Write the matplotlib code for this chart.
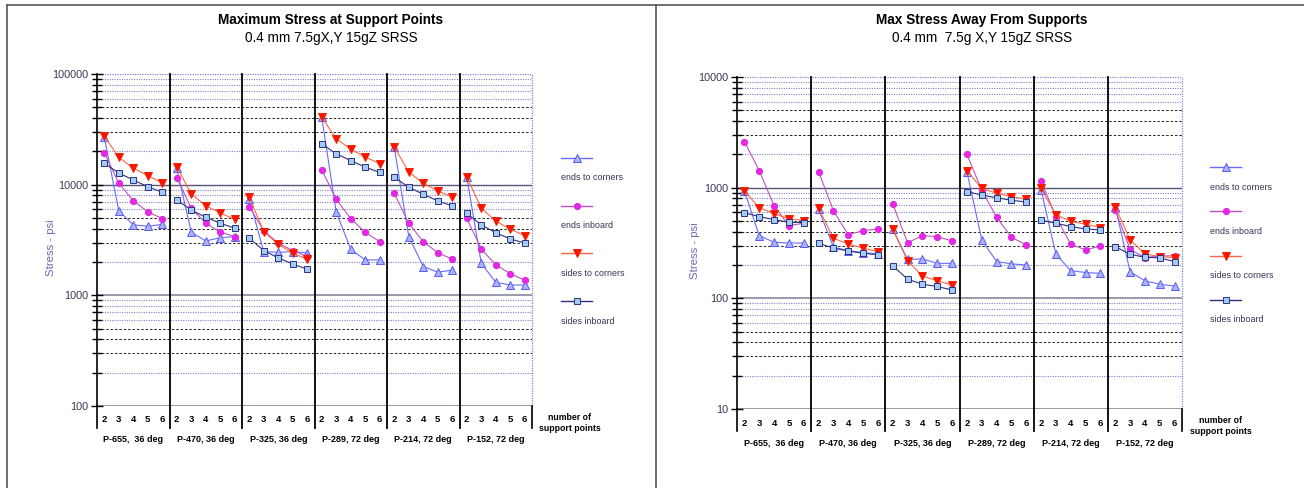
import numpy as np
import matplotlib
matplotlib.use("Agg")
import matplotlib.pyplot as plt
from matplotlib.lines import Line2D
import matplotlib.transforms as mtransforms

plt.rcParams['font.family'] = ['Liberation Sans', 'DejaVu Sans']

# ---- data ----
groups = ['P-655,  36 deg', 'P-470, 36 deg', 'P-325, 36 deg',
          'P-289, 72 deg', 'P-214, 72 deg', 'P-152, 72 deg']
supports = ['2', '3', '4', '5', '6']
series_names = ['ends to corners', 'ends inboard', 'sides to corners', 'sides inboard']

# Maximum stress at support points (psi), 5 values per group
sup_ends_corners = [26900, 5820, 4330, 4210, 4380,
                    14060, 3720, 3100, 3320, 3390,
                    7430, 2480, 2450, 2480, 2420,
                    40600, 5640, 2610, 2090, 2090,
                    21800, 3390, 1820, 1620, 1690,
                    11800, 1950, 1310, 1240, 1240]
sup_ends_inboard = [19450, 10350, 7160, 5700, 4930,
                    11560, 6120, 4480, 3740, 3390,
                    6330, 3840, 2960, 2540, 2240,
                    13600, 7380, 4930, 3720, 3050,
                    8360, 4480, 3050, 2430, 2120,
                    4970, 2620, 1890, 1570, 1370]
sup_sides_corners = [27500, 17700, 14100, 12100, 10350,
                     14550, 8240, 6460, 5550, 4860,
                     7740, 3760, 2900, 2400, 2120,
                     40600, 26100, 20900, 17800, 15500,
                     22000, 13000, 10300, 8770, 7740,
                     11800, 6120, 4700, 3960, 3460]
sup_sides_inboard = [15600, 12760, 11020, 9590, 8540,
                     7280, 5900, 5070, 4480, 4040,
                     3280, 2540, 2180, 1920, 1720,
                     23400, 19000, 16500, 14400, 12900,
                     11660, 9480, 8190, 7130, 6430,
                     5520, 4330, 3680, 3230, 2970]

# Max stress away from supports (psi)
away_ends_corners = [933, 368, 321, 316, 316,
                     640, 290, 270, 259, 252,
                     421, 225, 227, 207, 207,
                     1395, 337, 215, 205, 200,
                     953, 250, 178, 171, 168,
                     673, 174, 144, 134, 129]
away_ends_inboard = [2610, 1425, 688, 454, 477,
                     1395, 620, 376, 409, 424,
                     713, 318, 368, 361, 330,
                     2000, 950, 541, 356, 304,
                     1150, 547, 308, 274, 297,
                     629, 277, 233, 242, 242]
away_sides_corners = [933, 660, 582, 525, 504,
                      651, 349, 310, 284, 264,
                      421, 218, 159, 144, 132,
                      1415, 988, 890, 830, 786,
                      988, 567, 497, 467, 436,
                      673, 337, 253, 238, 233]
away_sides_inboard = [594, 547, 514, 487, 483,
                      315, 284, 268, 255, 248,
                      197, 149, 134, 128, 119,
                      920, 859, 812, 769, 743,
                      508, 477, 445, 424, 415,
                      293, 250, 235, 232, 215]

styles = [
    dict(color='#6a6aff', marker='^', mfc='#a8b4ff', mec='#5a5aee', ms=5.5, lw=0.8),
    dict(color='#c050c0', marker='o', mfc='#ee22ee', mec='#cc33cc', ms=4.5, lw=0.8),
    dict(color='#ff6644', marker='v', mfc='#ff1100', mec='#ee2200', ms=5.5, lw=0.8),
    dict(color='#303080', marker='s', mfc='#a0ccf4', mec='#303080', ms=5, lw=0.8),
]

W, H = 1304, 488
fig = plt.figure(figsize=(W / 100, H / 100), dpi=100)

# panel frame
for xs, ys in [([7, 7], [5, 488]), ([7, 1304], [5, 5]), ([656, 656], [5, 488])]:
    fig.add_artist(Line2D([x / W for x in xs], [1 - y / H for y in ys],
                          color='#555555', lw=1.2))


def draw_panel(box, series, decades, title, subtitle, tcx, leg_x, leg_y, ylab_x):
    x0, y0, x1, y1 = box
    ax = fig.add_axes([x0 / W, 1 - y1 / H, (x1 - x0) / W, (y1 - y0) / H])
    ax.set_yscale('log')
    ax.set_xlim(0, 30)
    ax.set_ylim(decades[0], decades[-1])
    for s in ['top', 'right', 'bottom']:
        ax.spines[s].set_visible(False)
    ax.spines['left'].set_color('black')
    ax.spines['left'].set_linewidth(1.2)

    # grid lines
    for d in decades[:-1]:
        for m in range(2, 10):
            if m in (3, 4, 5):
                ax.axhline(d * m, color='#222222', lw=0.7, ls=(0, (2.5, 2)), zorder=1)
            else:
                ax.axhline(d * m, color='#8080cc', lw=0.8, ls=(0, (1, 1.2)), zorder=1)
    for i, d in enumerate(decades):
        if i == len(decades) - 1:
            ax.axhline(d, color='#8080cc', lw=0.9, ls=(0, (1, 1)), zorder=1)
        elif i == len(decades) - 2:
            ax.axhline(d, color='#555577', lw=1.0, zorder=1)
        else:
            ax.axhline(d, color='#9a9aaa', lw=1.4, zorder=1)

    # group separators extending under the axis
    trans = mtransforms.blended_transform_factory(ax.transData, ax.transAxes)
    below = -22 / (y1 - y0)
    for k in range(0, 31, 5):
        if k == 30:
            ax.plot([k, k], [0, 1], transform=trans, color='#8080cc', lw=0.9,
                    ls=(0, (1, 1)), clip_on=False, zorder=1)
            ax.plot([k, k], [below, 0], transform=trans, color='black', lw=1.2,
                    clip_on=False)
        elif k == 0:
            ax.plot([k, k], [below, 0], transform=trans, color='black', lw=1.2,
                    clip_on=False)
        else:
            ax.plot([k, k], [below, 1], transform=trans, color='black', lw=1.3,
                    clip_on=False, zorder=2)

    # data
    xpos = np.arange(30) + 0.5
    for vals, st in zip(series, styles):
        v = np.array(vals, dtype=float)
        for g in range(6):
            sl = slice(g * 5, g * 5 + 5)
            ax.plot(xpos[sl], v[sl], color=st['color'], lw=st['lw'],
                    marker=st['marker'], ms=st['ms'], mfc=st['mfc'],
                    mec=st['mec'], mew=0.7, zorder=3, clip_on=False)

    # axis ticks and labels
    ax.set_xticks([])
    ax.set_yticks(decades)
    ax.set_yticklabels([str(d) for d in decades])
    ax.tick_params(axis='y', which='major', direction='inout', length=9,
                   width=1.0, pad=1.5, labelsize=7.8, labelcolor='#3a3a55')
    ax.tick_params(axis='y', which='minor', direction='inout', length=7,
                   width=1.0, labelleft=False)
    ax.yaxis.set_minor_formatter(matplotlib.ticker.NullFormatter())

    for i in range(30):
        ax.text(xpos[i], -14 / (y1 - y0), supports[i % 5], transform=trans,
                ha='center', va='center', fontsize=6.8, fontweight='bold')
    for g in range(6):
        ax.text(g * 5 + 2.5, -34 / (y1 - y0), groups[g], transform=trans,
                ha='center', va='center', fontsize=6.5, fontweight='bold')
    ax.text(32.6, -17 / (y1 - y0), 'number of\nsupport points', transform=trans,
            ha='center', va='center', fontsize=6.3, fontweight='bold',
            linespacing=1.35)

    fig.text(ylab_x / W, 1 - ((y0 + y1) / 2 + 8) / H, 'Stress - psi', rotation=90,
             ha='center', va='center', fontsize=8.2, color='#6a6ab0')

    fig.text(tcx / W, 1 - 20 / H, title, ha='center', va='center',
             fontsize=9.8, fontweight='bold')
    fig.text(tcx / W, 1 - 38 / H, subtitle, ha='center', va='center',
             fontsize=9.8)

    # legend
    for j, (name, st) in enumerate(zip(series_names, styles)):
        ly = leg_y[0] + j * leg_y[1]
        fig.add_artist(Line2D([leg_x / W, (leg_x + 31) / W], [1 - ly / H] * 2,
                              color=st['color'], lw=1.0))
        fig.add_artist(Line2D([(leg_x + 15.5) / W], [1 - ly / H],
                              marker=st['marker'], ms=st['ms'], mfc=st['mfc'],
                              mec=st['mec'], mew=0.7, lw=0))
        fig.text(leg_x / W, 1 - (ly + 20) / H, name, ha='left', va='center',
                 fontsize=6.4, color='#333355')
    return ax


draw_panel((97, 74, 532, 406),
           [sup_ends_corners, sup_ends_inboard, sup_sides_corners, sup_sides_inboard],
           [100, 1000, 10000, 100000],
           'Maximum Stress at Support Points', '0.4 mm 7.5gX,Y 15gZ SRSS',
           331, 561, (158, 47.7), 51)
draw_panel((737, 77, 1182, 409),
           [away_ends_corners, away_ends_inboard, away_sides_corners, away_sides_inboard],
           [10, 100, 1000, 10000],
           'Max Stress Away From Supports', '0.4 mm  7.5g X,Y 15gZ SRSS',
           982, 1210, (167, 44.3), 695)

fig.savefig('out.png', dpi=100)
